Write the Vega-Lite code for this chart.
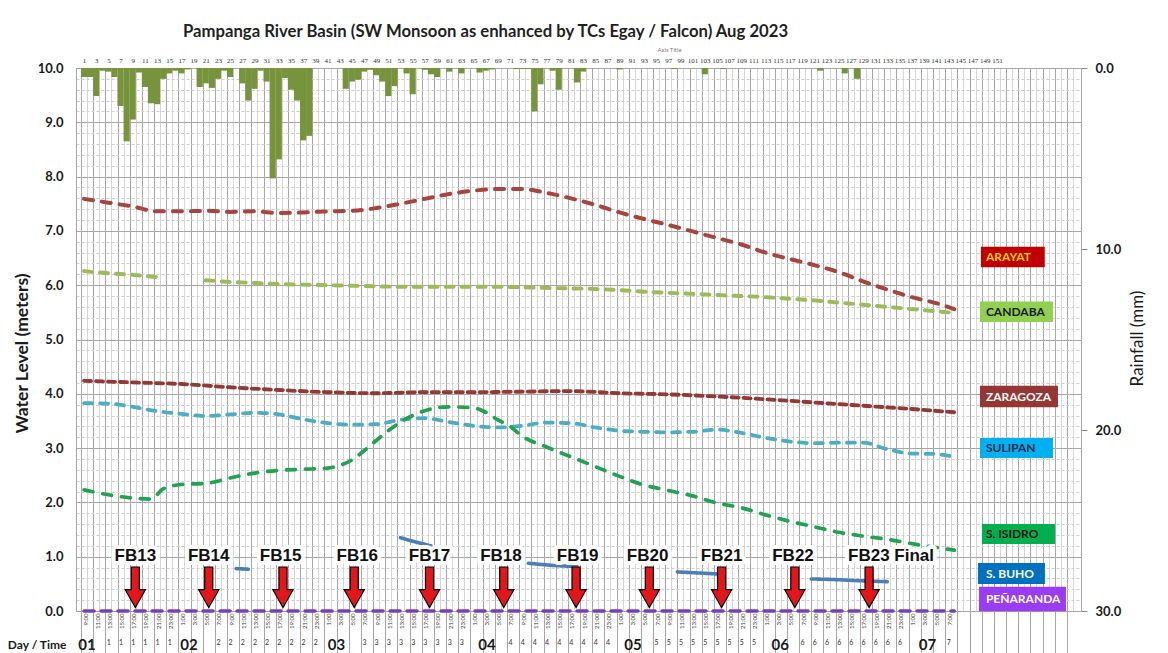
{
  "$schema": "https://vega.github.io/schema/vega-lite/v6.json",
  "width": 1005,
  "height": 543,
  "autosize": {"type": "none"},
  "padding": {"left": 76, "top": 68, "right": 87, "bottom": 42},
  "background": "#ffffff",
  "config": {
    "view": {"stroke": "#a6a6a6"},
    "font": "Lato",
    "axis": {"labelFont": "Lato", "titleFont": "Lato"}
  },
  "title": {
    "text": "Pampanga River Basin (SW Monsoon as enhanced by TCs Egay / Falcon) Aug 2023",
    "font": "Lato",
    "fontSize": 16.7,
    "fontWeight": "bold",
    "color": "#1f1f1f",
    "anchor": "start",
    "frame": "group",
    "dx": 107,
    "baseline": "alphabetic",
    "offset": -8
  },
  "datasets": {
    "rain": [
      {"h": 1, "r": 0.5}, {"h": 2, "r": 0.5}, {"h": 3, "r": 1.55}, {"h": 4, "r": 0.15}, {"h": 5, "r": 0.2},
      {"h": 6, "r": 0.5}, {"h": 7, "r": 2.1}, {"h": 8, "r": 4.05}, {"h": 9, "r": 2.85}, {"h": 10, "r": 0.25},
      {"h": 11, "r": 1.05}, {"h": 12, "r": 1.95}, {"h": 13, "r": 2.0}, {"h": 14, "r": 0.6}, {"h": 15, "r": 0.3},
      {"h": 16, "r": 0.15}, {"h": 17, "r": 0.3}, {"h": 18, "r": 0.08}, {"h": 20, "r": 1.05}, {"h": 21, "r": 0.85},
      {"h": 22, "r": 1.1}, {"h": 23, "r": 0.6}, {"h": 24, "r": 0.15}, {"h": 25, "r": 0.5}, {"h": 27, "r": 0.85},
      {"h": 28, "r": 1.8}, {"h": 29, "r": 1.15}, {"h": 30, "r": 0.15}, {"h": 31, "r": 0.75}, {"h": 32, "r": 6.1},
      {"h": 33, "r": 5.05}, {"h": 34, "r": 0.55}, {"h": 35, "r": 1.2}, {"h": 36, "r": 1.8}, {"h": 37, "r": 4.0},
      {"h": 38, "r": 3.75}, {"h": 44, "r": 1.15}, {"h": 45, "r": 0.75}, {"h": 46, "r": 0.65}, {"h": 47, "r": 0.2},
      {"h": 48, "r": 0.1}, {"h": 49, "r": 0.4}, {"h": 50, "r": 0.75}, {"h": 51, "r": 1.55}, {"h": 52, "r": 1.0},
      {"h": 54, "r": 0.3}, {"h": 55, "r": 1.45}, {"h": 57, "r": 0.1}, {"h": 58, "r": 0.35}, {"h": 59, "r": 0.5},
      {"h": 61, "r": 0.2}, {"h": 63, "r": 0.3}, {"h": 66, "r": 0.25}, {"h": 67, "r": 0.15}, {"h": 68, "r": 0.08},
      {"h": 72, "r": 0.05}, {"h": 73, "r": 0.05}, {"h": 74, "r": 0.05}, {"h": 75, "r": 2.4}, {"h": 76, "r": 0.9},
      {"h": 78, "r": 0.15}, {"h": 79, "r": 1.2}, {"h": 82, "r": 0.8}, {"h": 83, "r": 0.2}, {"h": 89, "r": 0.08},
      {"h": 98, "r": 0.05}, {"h": 103, "r": 0.35}, {"h": 106, "r": 0.05}, {"h": 122, "r": 0.15}, {"h": 126, "r": 0.3},
      {"h": 128, "r": 0.6}
    ],
    "wl": [
      {"s": "ARAYAT", "g": "A", "h": 1, "v": 7.59}, {"s": "ARAYAT", "g": "A", "h": 5, "v": 7.52},
      {"s": "ARAYAT", "g": "A", "h": 9, "v": 7.45}, {"s": "ARAYAT", "g": "A", "h": 13, "v": 7.36},
      {"s": "ARAYAT", "g": "A", "h": 17, "v": 7.36}, {"s": "ARAYAT", "g": "A", "h": 21, "v": 7.37},
      {"s": "ARAYAT", "g": "A", "h": 25, "v": 7.35}, {"s": "ARAYAT", "g": "A", "h": 29, "v": 7.36},
      {"s": "ARAYAT", "g": "A", "h": 33, "v": 7.33}, {"s": "ARAYAT", "g": "A", "h": 37, "v": 7.34},
      {"s": "ARAYAT", "g": "A", "h": 41, "v": 7.36}, {"s": "ARAYAT", "g": "A", "h": 45, "v": 7.37},
      {"s": "ARAYAT", "g": "A", "h": 49, "v": 7.42}, {"s": "ARAYAT", "g": "A", "h": 53, "v": 7.5},
      {"s": "ARAYAT", "g": "A", "h": 57, "v": 7.59}, {"s": "ARAYAT", "g": "A", "h": 61, "v": 7.68},
      {"s": "ARAYAT", "g": "A", "h": 65, "v": 7.74}, {"s": "ARAYAT", "g": "A", "h": 69, "v": 7.77},
      {"s": "ARAYAT", "g": "A", "h": 73, "v": 7.77}, {"s": "ARAYAT", "g": "A", "h": 77, "v": 7.7},
      {"s": "ARAYAT", "g": "A", "h": 81, "v": 7.6}, {"s": "ARAYAT", "g": "A", "h": 85, "v": 7.48},
      {"s": "ARAYAT", "g": "A", "h": 89, "v": 7.34}, {"s": "ARAYAT", "g": "A", "h": 93, "v": 7.22},
      {"s": "ARAYAT", "g": "A", "h": 97, "v": 7.11}, {"s": "ARAYAT", "g": "A", "h": 101, "v": 6.99},
      {"s": "ARAYAT", "g": "A", "h": 105, "v": 6.87}, {"s": "ARAYAT", "g": "A", "h": 109, "v": 6.75},
      {"s": "ARAYAT", "g": "A", "h": 113, "v": 6.6}, {"s": "ARAYAT", "g": "A", "h": 117, "v": 6.48},
      {"s": "ARAYAT", "g": "A", "h": 121, "v": 6.37}, {"s": "ARAYAT", "g": "A", "h": 125, "v": 6.24},
      {"s": "ARAYAT", "g": "A", "h": 129, "v": 6.07}, {"s": "ARAYAT", "g": "A", "h": 133, "v": 5.92},
      {"s": "ARAYAT", "g": "A", "h": 137, "v": 5.78}, {"s": "ARAYAT", "g": "A", "h": 141, "v": 5.67},
      {"s": "ARAYAT", "g": "A", "h": 144, "v": 5.56},

      {"s": "CANDABA", "g": "C1", "h": 1, "v": 6.26}, {"s": "CANDABA", "g": "C1", "h": 5, "v": 6.22},
      {"s": "CANDABA", "g": "C1", "h": 9, "v": 6.19}, {"s": "CANDABA", "g": "C1", "h": 13, "v": 6.15},
      {"s": "CANDABA", "g": "C2", "h": 21, "v": 6.09}, {"s": "CANDABA", "g": "C2", "h": 25, "v": 6.06},
      {"s": "CANDABA", "g": "C2", "h": 29, "v": 6.04}, {"s": "CANDABA", "g": "C2", "h": 33, "v": 6.02},
      {"s": "CANDABA", "g": "C2", "h": 37, "v": 6.01}, {"s": "CANDABA", "g": "C2", "h": 41, "v": 6.0},
      {"s": "CANDABA", "g": "C2", "h": 45, "v": 5.99}, {"s": "CANDABA", "g": "C2", "h": 49, "v": 5.98},
      {"s": "CANDABA", "g": "C2", "h": 53, "v": 5.97}, {"s": "CANDABA", "g": "C2", "h": 61, "v": 5.97},
      {"s": "CANDABA", "g": "C2", "h": 69, "v": 5.97}, {"s": "CANDABA", "g": "C2", "h": 77, "v": 5.95},
      {"s": "CANDABA", "g": "C2", "h": 85, "v": 5.93}, {"s": "CANDABA", "g": "C2", "h": 89, "v": 5.91},
      {"s": "CANDABA", "g": "C2", "h": 93, "v": 5.88}, {"s": "CANDABA", "g": "C2", "h": 97, "v": 5.86},
      {"s": "CANDABA", "g": "C2", "h": 101, "v": 5.84}, {"s": "CANDABA", "g": "C2", "h": 105, "v": 5.82},
      {"s": "CANDABA", "g": "C2", "h": 109, "v": 5.8}, {"s": "CANDABA", "g": "C2", "h": 113, "v": 5.78},
      {"s": "CANDABA", "g": "C2", "h": 117, "v": 5.75}, {"s": "CANDABA", "g": "C2", "h": 121, "v": 5.72},
      {"s": "CANDABA", "g": "C2", "h": 125, "v": 5.68}, {"s": "CANDABA", "g": "C2", "h": 129, "v": 5.64},
      {"s": "CANDABA", "g": "C2", "h": 133, "v": 5.6}, {"s": "CANDABA", "g": "C2", "h": 137, "v": 5.56},
      {"s": "CANDABA", "g": "C2", "h": 141, "v": 5.52}, {"s": "CANDABA", "g": "C2", "h": 144, "v": 5.49},

      {"s": "ZARAGOZA", "g": "Z", "h": 1, "v": 4.24}, {"s": "ZARAGOZA", "g": "Z", "h": 9, "v": 4.21},
      {"s": "ZARAGOZA", "g": "Z", "h": 17, "v": 4.18}, {"s": "ZARAGOZA", "g": "Z", "h": 25, "v": 4.12},
      {"s": "ZARAGOZA", "g": "Z", "h": 33, "v": 4.07}, {"s": "ZARAGOZA", "g": "Z", "h": 41, "v": 4.03},
      {"s": "ZARAGOZA", "g": "Z", "h": 49, "v": 4.01}, {"s": "ZARAGOZA", "g": "Z", "h": 57, "v": 4.03},
      {"s": "ZARAGOZA", "g": "Z", "h": 65, "v": 4.03}, {"s": "ZARAGOZA", "g": "Z", "h": 73, "v": 4.04},
      {"s": "ZARAGOZA", "g": "Z", "h": 81, "v": 4.05}, {"s": "ZARAGOZA", "g": "Z", "h": 89, "v": 4.01},
      {"s": "ZARAGOZA", "g": "Z", "h": 97, "v": 3.99}, {"s": "ZARAGOZA", "g": "Z", "h": 105, "v": 3.95},
      {"s": "ZARAGOZA", "g": "Z", "h": 113, "v": 3.9}, {"s": "ZARAGOZA", "g": "Z", "h": 121, "v": 3.84},
      {"s": "ZARAGOZA", "g": "Z", "h": 129, "v": 3.78}, {"s": "ZARAGOZA", "g": "Z", "h": 137, "v": 3.72},
      {"s": "ZARAGOZA", "g": "Z", "h": 144, "v": 3.66},

      {"s": "SULIPAN", "g": "S", "h": 1, "v": 3.83}, {"s": "SULIPAN", "g": "S", "h": 5, "v": 3.82},
      {"s": "SULIPAN", "g": "S", "h": 9, "v": 3.76}, {"s": "SULIPAN", "g": "S", "h": 13, "v": 3.68},
      {"s": "SULIPAN", "g": "S", "h": 17, "v": 3.63}, {"s": "SULIPAN", "g": "S", "h": 21, "v": 3.59},
      {"s": "SULIPAN", "g": "S", "h": 25, "v": 3.62}, {"s": "SULIPAN", "g": "S", "h": 29, "v": 3.65},
      {"s": "SULIPAN", "g": "S", "h": 33, "v": 3.62}, {"s": "SULIPAN", "g": "S", "h": 37, "v": 3.53},
      {"s": "SULIPAN", "g": "S", "h": 41, "v": 3.46}, {"s": "SULIPAN", "g": "S", "h": 45, "v": 3.43},
      {"s": "SULIPAN", "g": "S", "h": 49, "v": 3.44}, {"s": "SULIPAN", "g": "S", "h": 53, "v": 3.52},
      {"s": "SULIPAN", "g": "S", "h": 57, "v": 3.55}, {"s": "SULIPAN", "g": "S", "h": 61, "v": 3.48},
      {"s": "SULIPAN", "g": "S", "h": 65, "v": 3.41}, {"s": "SULIPAN", "g": "S", "h": 69, "v": 3.38},
      {"s": "SULIPAN", "g": "S", "h": 73, "v": 3.41}, {"s": "SULIPAN", "g": "S", "h": 77, "v": 3.47},
      {"s": "SULIPAN", "g": "S", "h": 81, "v": 3.46}, {"s": "SULIPAN", "g": "S", "h": 85, "v": 3.38},
      {"s": "SULIPAN", "g": "S", "h": 89, "v": 3.32}, {"s": "SULIPAN", "g": "S", "h": 93, "v": 3.3},
      {"s": "SULIPAN", "g": "S", "h": 97, "v": 3.29}, {"s": "SULIPAN", "g": "S", "h": 101, "v": 3.3},
      {"s": "SULIPAN", "g": "S", "h": 105, "v": 3.34}, {"s": "SULIPAN", "g": "S", "h": 109, "v": 3.28},
      {"s": "SULIPAN", "g": "S", "h": 113, "v": 3.19}, {"s": "SULIPAN", "g": "S", "h": 117, "v": 3.12},
      {"s": "SULIPAN", "g": "S", "h": 121, "v": 3.09}, {"s": "SULIPAN", "g": "S", "h": 125, "v": 3.1},
      {"s": "SULIPAN", "g": "S", "h": 129, "v": 3.1}, {"s": "SULIPAN", "g": "S", "h": 133, "v": 2.98},
      {"s": "SULIPAN", "g": "S", "h": 137, "v": 2.9}, {"s": "SULIPAN", "g": "S", "h": 141, "v": 2.89},
      {"s": "SULIPAN", "g": "S", "h": 144, "v": 2.84},

      {"s": "S. ISIDRO", "g": "I", "h": 1, "v": 2.23}, {"s": "S. ISIDRO", "g": "I", "h": 5, "v": 2.14},
      {"s": "S. ISIDRO", "g": "I", "h": 9, "v": 2.08}, {"s": "S. ISIDRO", "g": "I", "h": 12, "v": 2.06},
      {"s": "S. ISIDRO", "g": "I", "h": 14, "v": 2.25}, {"s": "S. ISIDRO", "g": "I", "h": 17, "v": 2.33},
      {"s": "S. ISIDRO", "g": "I", "h": 21, "v": 2.35}, {"s": "S. ISIDRO", "g": "I", "h": 25, "v": 2.45},
      {"s": "S. ISIDRO", "g": "I", "h": 29, "v": 2.54}, {"s": "S. ISIDRO", "g": "I", "h": 33, "v": 2.59},
      {"s": "S. ISIDRO", "g": "I", "h": 37, "v": 2.61}, {"s": "S. ISIDRO", "g": "I", "h": 41, "v": 2.63},
      {"s": "S. ISIDRO", "g": "I", "h": 43, "v": 2.68}, {"s": "S. ISIDRO", "g": "I", "h": 45, "v": 2.78},
      {"s": "S. ISIDRO", "g": "I", "h": 47, "v": 2.95}, {"s": "S. ISIDRO", "g": "I", "h": 49, "v": 3.14},
      {"s": "S. ISIDRO", "g": "I", "h": 51, "v": 3.32}, {"s": "S. ISIDRO", "g": "I", "h": 53, "v": 3.48},
      {"s": "S. ISIDRO", "g": "I", "h": 55, "v": 3.6}, {"s": "S. ISIDRO", "g": "I", "h": 57, "v": 3.69},
      {"s": "S. ISIDRO", "g": "I", "h": 61, "v": 3.76}, {"s": "S. ISIDRO", "g": "I", "h": 65, "v": 3.74},
      {"s": "S. ISIDRO", "g": "I", "h": 67, "v": 3.66}, {"s": "S. ISIDRO", "g": "I", "h": 69, "v": 3.52},
      {"s": "S. ISIDRO", "g": "I", "h": 71, "v": 3.4}, {"s": "S. ISIDRO", "g": "I", "h": 73, "v": 3.22},
      {"s": "S. ISIDRO", "g": "I", "h": 77, "v": 3.02}, {"s": "S. ISIDRO", "g": "I", "h": 81, "v": 2.84},
      {"s": "S. ISIDRO", "g": "I", "h": 85, "v": 2.66}, {"s": "S. ISIDRO", "g": "I", "h": 89, "v": 2.48},
      {"s": "S. ISIDRO", "g": "I", "h": 93, "v": 2.32}, {"s": "S. ISIDRO", "g": "I", "h": 97, "v": 2.22},
      {"s": "S. ISIDRO", "g": "I", "h": 101, "v": 2.12}, {"s": "S. ISIDRO", "g": "I", "h": 105, "v": 1.99},
      {"s": "S. ISIDRO", "g": "I", "h": 109, "v": 1.9}, {"s": "S. ISIDRO", "g": "I", "h": 113, "v": 1.77},
      {"s": "S. ISIDRO", "g": "I", "h": 117, "v": 1.65}, {"s": "S. ISIDRO", "g": "I", "h": 121, "v": 1.55},
      {"s": "S. ISIDRO", "g": "I", "h": 125, "v": 1.45}, {"s": "S. ISIDRO", "g": "I", "h": 129, "v": 1.38},
      {"s": "S. ISIDRO", "g": "I", "h": 133, "v": 1.32}, {"s": "S. ISIDRO", "g": "I", "h": 137, "v": 1.24},
      {"s": "S. ISIDRO", "g": "I", "h": 141, "v": 1.17}, {"s": "S. ISIDRO", "g": "I", "h": 144, "v": 1.12},

      {"s": "S. BUHO", "g": "B1", "h": 26, "v": 0.78}, {"s": "S. BUHO", "g": "B1", "h": 28, "v": 0.77},
      {"s": "S. BUHO", "g": "B2", "h": 53, "v": 1.35}, {"s": "S. BUHO", "g": "B2", "h": 55.5, "v": 1.27},
      {"s": "S. BUHO", "g": "B2", "h": 58, "v": 1.2},
      {"s": "S. BUHO", "g": "B3", "h": 74, "v": 0.88}, {"s": "S. BUHO", "g": "B3", "h": 78, "v": 0.84},
      {"s": "S. BUHO", "g": "B3", "h": 82, "v": 0.82},
      {"s": "S. BUHO", "g": "B4", "h": 98.5, "v": 0.72}, {"s": "S. BUHO", "g": "B4", "h": 102, "v": 0.7},
      {"s": "S. BUHO", "g": "B4", "h": 105.5, "v": 0.68},
      {"s": "S. BUHO", "g": "B5", "h": 120.5, "v": 0.59}, {"s": "S. BUHO", "g": "B5", "h": 124, "v": 0.58},
      {"s": "S. BUHO", "g": "B5", "h": 128, "v": 0.56}, {"s": "S. BUHO", "g": "B5", "h": 133, "v": 0.54},

      {"s": "PEÑARANDA", "g": "P", "h": 1, "v": 0}, {"s": "PEÑARANDA", "g": "P", "h": 144, "v": 0}
    ],
    "fba": [
      {"h": 9.43}, {"h": 21.49}, {"h": 33.69}, {"h": 45.4}, {"h": 57.77}, {"h": 69.97},
      {"h": 81.85}, {"h": 93.89}, {"h": 105.76}, {"h": 117.8}, {"h": 130.0}
    ],
    "fbl": [
      {"h": 9.43, "t": "FB13"}, {"h": 21.49, "t": "FB14"}, {"h": 33.3, "t": "FB15"}, {"h": 45.9, "t": "FB16"},
      {"h": 57.77, "t": "FB17"}, {"h": 69.5, "t": "FB18"}, {"h": 82.1, "t": "FB19"}, {"h": 93.6, "t": "FB20"},
      {"h": 105.76, "t": "FB21"}, {"h": 117.5, "t": "FB22"}, {"h": 133.6, "t": "FB23 Final"}
    ],
    "boxes": [
      {"s": "ARAYAT", "ly": 6.52}, {"s": "CANDABA", "ly": 5.51}, {"s": "ZARAGOZA", "ly": 3.95},
      {"s": "SULIPAN", "ly": 3.0}, {"s": "S. ISIDRO", "ly": 1.42}, {"s": "S. BUHO", "ly": 0.69},
      {"s": "PEÑARANDA", "ly": 0.22}
    ],
    "days": [
      {"h": 1.48, "t": "01"}, {"h": 18.23, "t": "02"}, {"h": 42.47, "t": "03"}, {"h": 67.2, "t": "04"},
      {"h": 91.2, "t": "05"}, {"h": 115.4, "t": "06"}, {"h": 139.6, "t": "07"}
    ]
  },
  "layer": [
    {
      "data": {"name": "rain"},
      "mark": {"type": "bar", "color": "#77933c", "width": 6.2},
      "encoding": {
        "x": {
          "field": "h", "type": "quantitative",
          "scale": {"domain": [0.5, 164], "nice": false, "zero": false},
          "axis": {
            "orient": "top",
            "values": [1,3,5,7,9,11,13,15,17,19,21,23,25,27,29,31,33,35,37,39,41,43,45,47,49,51,53,55,57,59,61,63,65,67,69,71,73,75,77,79,81,83,85,87,89,91,93,95,97,99,101,103,105,107,109,111,113,115,117,119,121,123,125,127,129,131,133,135,137,139,141,143,145,147,149,151],
            "format": "d",
            "grid": false, "ticks": false, "domain": false,
            "labelFont": "Liberation Serif", "labelFontSize": 7, "labelColor": "#333333",
            "labelPadding": 5, "labelOverlap": false, "labelFlush": false, "labelBound": false,
            "title": "Axis Title", "titleFontSize": 6, "titleFontWeight": "normal", "titleColor": "#808080",
            "titleX": 593, "titleY": -19, "titleAlign": "center", "titleBaseline": "middle"
          }
        },
        "y": {
          "field": "r", "type": "quantitative",
          "scale": {"domain": [0, 30], "reverse": true, "nice": false},
          "axis": {
            "orient": "right",
            "values": [0, 10, 20, 30],
            "format": ".1f",
            "grid": false, "domain": false,
            "tickSize": 6, "tickColor": "#8c8c8c",
            "labelFontSize": 13, "labelFontWeight": "bold", "labelColor": "#1a1a1a", "labelPadding": 8,
            "title": "Rainfall (mm)", "titleFontSize": 17, "titleFontWeight": "normal", "titleColor": "#1a1a1a",
            "titleAngle": 270, "titleX": 56, "titleY": 270, "titleAlign": "center", "titleBaseline": "middle"
          }
        }
      }
    },
    {
      "data": {"name": "wl"},
      "mark": {"type": "line", "strokeCap": "round", "interpolate": "monotone"},
      "encoding": {
        "x": {
          "field": "h", "type": "quantitative",
          "scale": {"domain": [0.5, 164], "nice": false, "zero": false},
          "axis": {
            "orient": "bottom",
            "values": [0.5,1.5,2.5,3.5,4.5,5.5,6.5,7.5,8.5,9.5,10.5,11.5,12.5,13.5,14.5,15.5,16.5,17.5,18.5,19.5,20.5,21.5,22.5,23.5,24.5,25.5,26.5,27.5,28.5,29.5,30.5,31.5,32.5,33.5,34.5,35.5,36.5,37.5,38.5,39.5,40.5,41.5,42.5,43.5,44.5,45.5,46.5,47.5,48.5,49.5,50.5,51.5,52.5,53.5,54.5,55.5,56.5,57.5,58.5,59.5,60.5,61.5,62.5,63.5,64.5,65.5,66.5,67.5,68.5,69.5,70.5,71.5,72.5,73.5,74.5,75.5,76.5,77.5,78.5,79.5,80.5,81.5,82.5,83.5,84.5,85.5,86.5,87.5,88.5,89.5,90.5,91.5,92.5,93.5,94.5,95.5,96.5,97.5,98.5,99.5,100.5,101.5,102.5,103.5,104.5,105.5,106.5,107.5,108.5,109.5,110.5,111.5,112.5,113.5,114.5,115.5,116.5,117.5,118.5,119.5,120.5,121.5,122.5,123.5,124.5,125.5,126.5,127.5,128.5,129.5,130.5,131.5,132.5,133.5,134.5,135.5,136.5,137.5,138.5,139.5,140.5,141.5,142.5,143.5,144.5,145.5,146.5,147.5,148.5,149.5,150.5,151.5,152.5,153.5,154.5,155.5,156.5,157.5,158.5,159.5,160.5,161.5,162.5,163.5],
            "grid": true,
            "gridColor": {"condition": {"test": "datum.value % 2 == 0.5", "value": "#a6a6a6"}, "value": "#d6d6d6"},
            "gridWidth": 1,
            "domain": false,
            "ticks": true, "tickSize": 42, "tickColor": "#a6a6a6",
            "tickOpacity": {"condition": {"test": "datum.value % 2 == 0.5", "value": 1}, "value": 0},
            "labelExpr": "(datum.value % 2 == 0.5 && datum.value < 143) ? ((datum.value + 8.5) % 24) + ':00' : ''",
            "labelAngle": 270, "labelFontSize": 6, "labelColor": "#404040",
            "labelPadding": -40, "labelOffset": 4,
            "labelOverlap": false, "labelFlush": false, "labelBound": false,
            "title": null
          }
        },
        "y": {
          "field": "v", "type": "quantitative",
          "scale": {"domain": [0, 10], "nice": false, "zero": false},
          "axis": {
            "orient": "left",
            "values": [0,0.2,0.4,0.6,0.8,1,1.2,1.4,1.6,1.8,2,2.2,2.4,2.6,2.8,3,3.2,3.4,3.6,3.8,4,4.2,4.4,4.6,4.8,5,5.2,5.4,5.6,5.8,6,6.2,6.4,6.6,6.8,7,7.2,7.4,7.6,7.8,8,8.2,8.4,8.6,8.8,9,9.2,9.4,9.6,9.8,10],
            "grid": true,
            "gridColor": {"condition": {"test": "datum.value % 1 == 0", "value": "#a6a6a6"}, "value": "#cfcfcf"},
            "gridDash": {"condition": {"test": "datum.value % 1 == 0", "value": []}, "value": [3, 2]},
            "domain": false, "ticks": false,
            "labelExpr": "datum.value % 1 == 0 ? format(datum.value, '.1f') : ''",
            "labelFontSize": 13, "labelFontWeight": "bold", "labelColor": "#1a1a1a", "labelPadding": 13,
            "labelOverlap": false, "labelFlush": false,
            "title": "Water Level (meters)", "titleFontSize": 17.5, "titleFontWeight": "bold", "titleColor": "#1a1a1a",
            "titleAngle": 270, "titleX": -54, "titleY": 285, "titleAlign": "center", "titleBaseline": "middle"
          }
        },
        "color": {
          "field": "s", "type": "nominal", "legend": null,
          "scale": {
            "domain": ["ARAYAT", "CANDABA", "ZARAGOZA", "SULIPAN", "S. ISIDRO", "S. BUHO", "PEÑARANDA"],
            "range": ["#a8433e", "#9bbb59", "#953735", "#4bacc6", "#1fa34f", "#4a7ebb", "#7b3fb5"]
          }
        },
        "strokeDash": {
          "field": "s", "type": "nominal", "legend": null,
          "scale": {
            "domain": ["ARAYAT", "CANDABA", "ZARAGOZA", "SULIPAN", "S. ISIDRO", "S. BUHO", "PEÑARANDA"],
            "range": [[9, 9], [8, 8], [7, 5], [8, 8], [9, 10], [1, 0], [10, 7]]
          }
        },
        "strokeWidth": {
          "field": "s", "type": "ordinal", "legend": null,
          "scale": {
            "domain": ["ARAYAT", "CANDABA", "ZARAGOZA", "SULIPAN", "S. ISIDRO", "S. BUHO", "PEÑARANDA"],
            "range": [4, 3.5, 2, 3.5, 4, 3.5, 2.5]
          }
        },
        "detail": {"field": "g", "type": "nominal"}
      }
    },
    {
      "layer": [
        {
          "data": {"name": "fbl"},
          "mark": {"type": "text", "font": "Liberation Sans", "fontSize": 17, "fontWeight": "bold", "fill": "#ffffff", "stroke": "#ffffff", "strokeWidth": 8, "strokeJoin": "round", "baseline": "middle", "align": "center"},
          "encoding": {
            "x": {"field": "h", "type": "quantitative", "axis": null},
            "y": {"datum": 1.01, "type": "quantitative", "scale": {"domain": [0, 10], "nice": false, "zero": false}, "axis": null},
            "text": {"field": "t"}
          }
        },
        {
          "data": {"name": "fbl"},
          "mark": {"type": "text", "font": "Liberation Sans", "fontSize": 17, "fontWeight": "bold", "fill": "#111111", "baseline": "middle", "align": "center"},
          "encoding": {
            "x": {"field": "h", "type": "quantitative", "axis": null},
            "y": {"datum": 1.01, "type": "quantitative", "scale": {"domain": [0, 10], "nice": false, "zero": false}, "axis": null},
            "text": {"field": "t"}
          }
        },
        {
          "data": {"name": "fba"},
          "mark": {"type": "point", "shape": "M-0.2,-1L0.2,-1L0.2,0.12L0.5,0.12L0,1L-0.5,0.12L-0.2,0.12Z", "size": 1640, "filled": true, "fill": "#e3161c", "stroke": "#000000", "strokeWidth": 1.2, "opacity": 1},
          "encoding": {
            "x": {"field": "h", "type": "quantitative", "axis": null},
            "y": {"datum": 0.437, "type": "quantitative", "scale": {"domain": [0, 10], "nice": false, "zero": false}, "axis": null}
          }
        },
        {
          "data": {"name": "boxes"},
          "mark": {"type": "point", "size": 8100, "filled": true, "opacity": 1, "strokeWidth": 0},
          "encoding": {
            "x": {"datum": 148.22, "type": "quantitative", "axis": null},
            "y": {"field": "ly", "type": "quantitative", "scale": {"domain": [0, 10], "nice": false, "zero": false}, "axis": null},
            "fill": {
              "field": "s", "type": "nominal", "legend": null,
              "scale": {
                "domain": ["ARAYAT", "CANDABA", "ZARAGOZA", "SULIPAN", "S. ISIDRO", "S. BUHO", "PEÑARANDA"],
                "range": ["#c00000", "#92d050", "#963634", "#00b0f0", "#00b050", "#0070c0", "#9a3cf5"]
              }
            },
            "shape": {
              "field": "s", "type": "nominal", "legend": null,
              "scale": {
                "domain": ["ARAYAT", "CANDABA", "ZARAGOZA", "SULIPAN", "S. ISIDRO", "S. BUHO", "PEÑARANDA"],
                "range": [
                  "M0.02,-0.229L1.44,-0.229L1.44,0.229L0.02,0.229Z",
                  "M0,-0.229L1.622,-0.229L1.622,0.229L0,0.229Z",
                  "M0,-0.24L1.733,-0.24L1.733,0.24L0,0.24Z",
                  "M0,-0.222L1.622,-0.222L1.622,0.222L0,0.222Z",
                  "M0.044,-0.222L1.667,-0.222L1.667,0.222L0.044,0.222Z",
                  "M-0.044,-0.233L1.444,-0.233L1.444,0.233L-0.044,0.233Z",
                  "M-0.022,-0.273L1.911,-0.273L1.911,0.273L-0.022,0.273Z"
                ]
              }
            }
          }
        },
        {
          "data": {"name": "boxes"},
          "mark": {"type": "text", "font": "Lato", "fontSize": 12, "fontWeight": "bold", "align": "left", "baseline": "middle"},
          "encoding": {
            "x": {"datum": 149.2, "type": "quantitative", "axis": null},
            "y": {"field": "ly", "type": "quantitative", "scale": {"domain": [0, 10], "nice": false, "zero": false}, "axis": null},
            "text": {"field": "s"},
            "fill": {
              "field": "s", "type": "nominal", "legend": null,
              "scale": {
                "domain": ["ARAYAT", "CANDABA", "ZARAGOZA", "SULIPAN", "S. ISIDRO", "S. BUHO", "PEÑARANDA"],
                "range": ["#ffcc00", "#1a1a1a", "#ffffff", "#1b2a49", "#141414", "#ffffff", "#ffffff"]
              }
            }
          }
        }
      ],
      "resolve": {"scale": {"fill": "independent", "shape": "independent"}}
    },
    {
      "data": {"name": "days"},
      "mark": {"type": "text", "font": "Lato", "fontSize": 15, "fontWeight": "bold", "color": "#1a1a1a", "baseline": "middle", "align": "center"},
      "encoding": {
        "x": {
          "field": "h", "type": "quantitative",
          "scale": {"domain": [0.5, 164], "nice": false, "zero": false},
          "axis": {
            "orient": "bottom",
            "values": [1,3,5,7,9,11,13,15,17,19,21,23,25,27,29,31,33,35,37,39,41,43,45,47,49,51,53,55,57,59,61,63,65,67,69,71,73,75,77,79,81,83,85,87,89,91,93,95,97,99,101,103,105,107,109,111,113,115,117,119,121,123,125,127,129,131,133,135,137,139,141,143],
            "grid": false, "ticks": false, "domain": false,
            "labelExpr": "(datum.value < 5 || (datum.value > 16 && (datum.value - 16) % 24 <= 5)) ? '' : floor((datum.value + 8) / 24) + 1",
            "labelFontSize": 7, "labelColor": "#333333", "labelPadding": 27,
            "labelOverlap": false, "labelFlush": false, "labelBound": false,
            "title": "Day / Time", "titleFontSize": 12, "titleFontWeight": "bold", "titleColor": "#1a1a1a",
            "titleX": -10, "titleY": 33, "titleAlign": "right", "titleBaseline": "middle"
          }
        },
        "y": {"datum": -0.626, "type": "quantitative", "scale": {"domain": [0, 10], "nice": false, "zero": false}, "axis": null},
        "text": {"field": "t"}
      }
    }
  ],
  "resolve": {"scale": {"y": "independent"}, "axis": {"x": "independent", "y": "independent"}}
}
